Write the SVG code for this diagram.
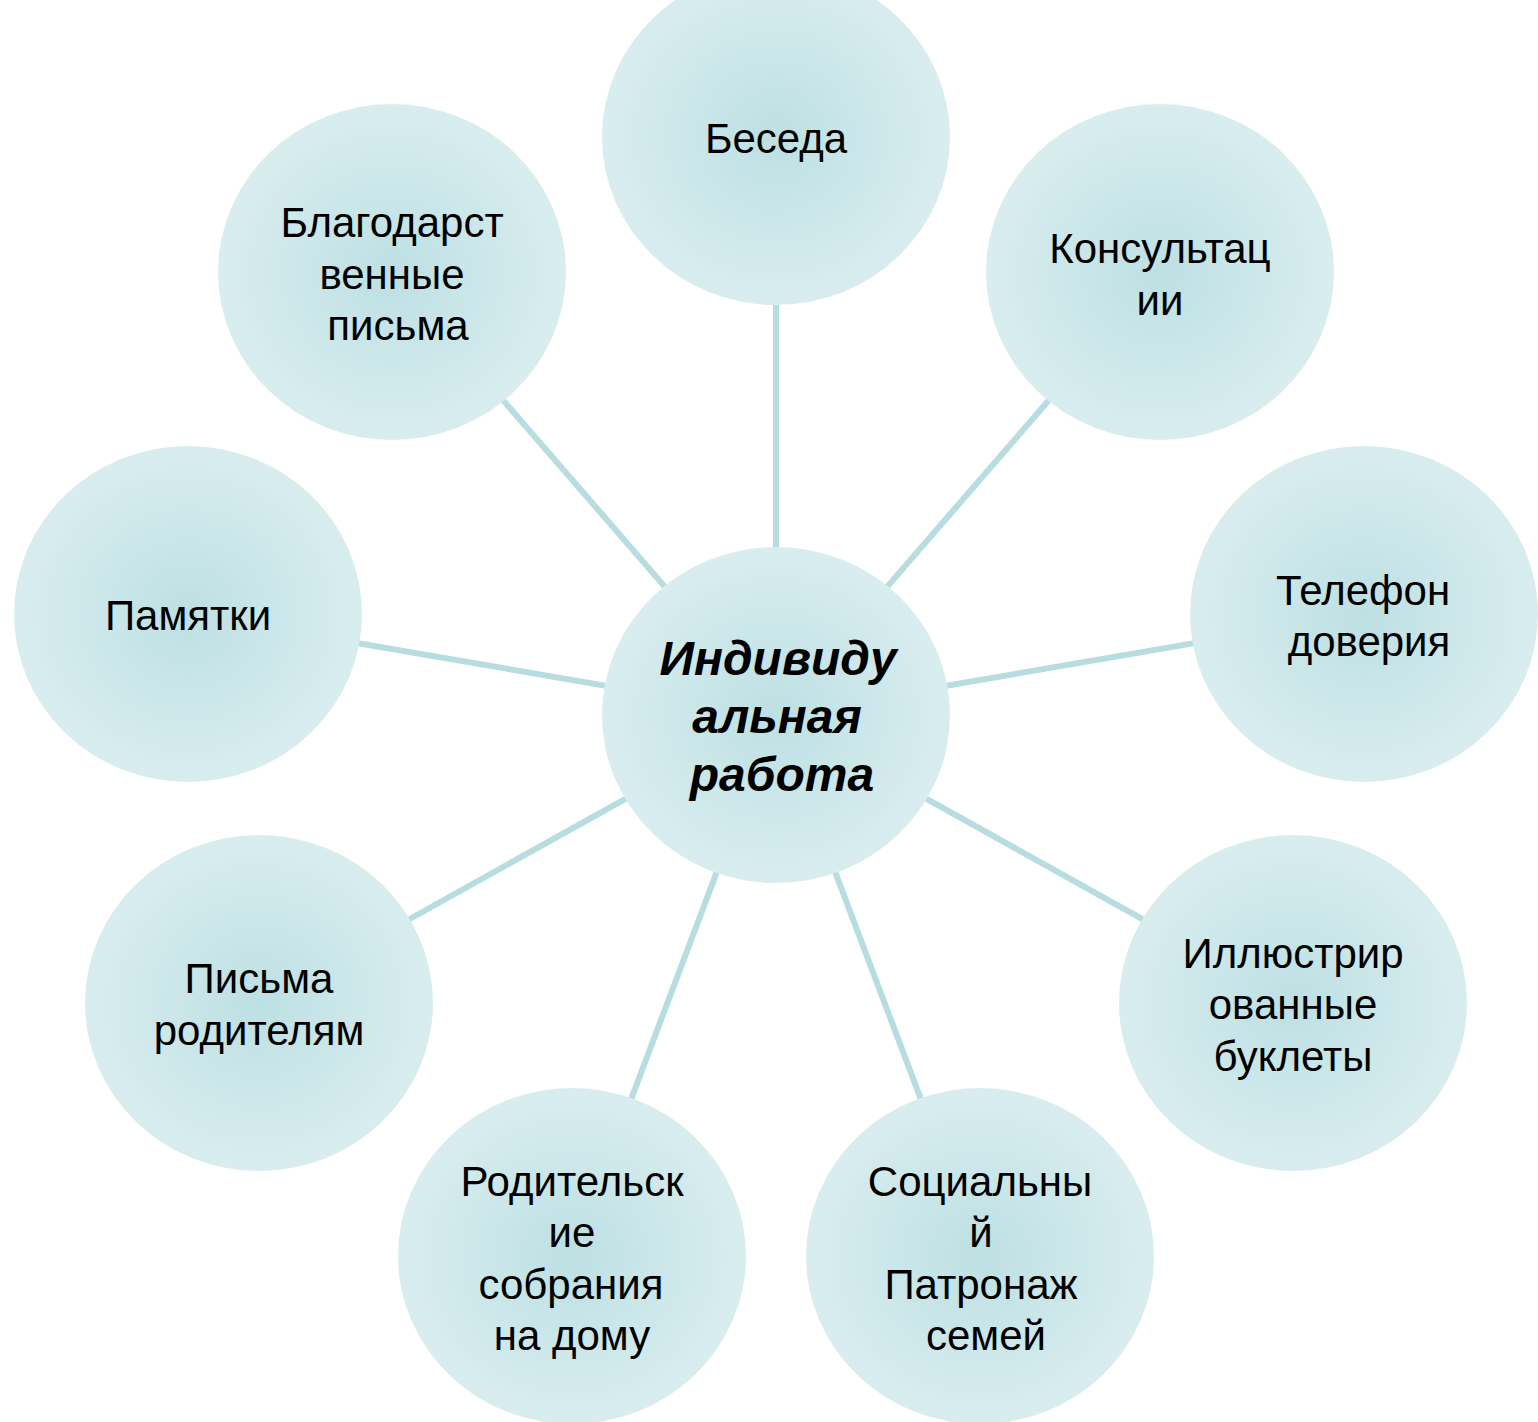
<svg xmlns="http://www.w3.org/2000/svg" width="1538" height="1422" viewBox="0 0 1538 1422">
<defs>
<radialGradient id="g" cx="0.5" cy="0.5" r="0.5">
<stop offset="0" stop-color="#bde0e3"/>
<stop offset="1" stop-color="#d9edef"/>
</radialGradient>
</defs>
<style>
.n{fill:url(#g)}
.t{font-family:"Liberation Sans",Arial,sans-serif;font-size:42px;fill:#000;text-anchor:middle}
.c{font-family:"Liberation Sans",Arial,sans-serif;font-size:48px;font-weight:bold;font-style:italic;fill:#000;text-anchor:middle}
.l{stroke:#b7dde0;stroke-width:6;fill:none}
</style>
<rect width="1538" height="1422" fill="#fff"/>
<g id="connectors">
<line class="l" x1="776" y1="715" x2="776" y2="137"/>
<line class="l" x1="776" y1="715" x2="1160" y2="272"/>
<line class="l" x1="776" y1="715" x2="1364" y2="614"/>
<line class="l" x1="776" y1="715" x2="1293" y2="1003"/>
<line class="l" x1="776" y1="715" x2="980" y2="1256"/>
<line class="l" x1="776" y1="715" x2="572" y2="1256"/>
<line class="l" x1="776" y1="715" x2="259" y2="1003"/>
<line class="l" x1="776" y1="715" x2="188" y2="614"/>
<line class="l" x1="776" y1="715" x2="392" y2="272"/>
</g>
<g id="center">
<ellipse class="n" cx="776" cy="715" rx="174" ry="168"/>
<text class="c"><tspan x="778" y="675">Индивиду</tspan><tspan x="777" y="733">альная</tspan><tspan x="782" y="791">работа</tspan></text>
</g>
<g id="beseda">
<ellipse class="n" cx="776" cy="137" rx="174" ry="168"/>
<text class="t"><tspan x="776" y="153">Беседа</tspan></text>
</g>
<g id="konsultacii">
<ellipse class="n" cx="1160" cy="272" rx="174" ry="168"/>
<text class="t"><tspan x="1160" y="263">Консультац</tspan><tspan x="1160" y="315">ии</tspan></text>
</g>
<g id="telefon">
<ellipse class="n" cx="1364" cy="614" rx="174" ry="168"/>
<text class="t"><tspan x="1363" y="605">Телефон</tspan><tspan x="1369" y="656">доверия</tspan></text>
</g>
<g id="buklety">
<ellipse class="n" cx="1293" cy="1003" rx="174" ry="168"/>
<text class="t"><tspan x="1293" y="968">Иллюстрир</tspan><tspan x="1293" y="1019">ованные</tspan><tspan x="1293" y="1071">буклеты</tspan></text>
</g>
<g id="patronazh">
<ellipse class="n" cx="980" cy="1256" rx="174" ry="168"/>
<text class="t"><tspan x="980" y="1196">Социальны</tspan><tspan x="981" y="1247">й</tspan><tspan x="981" y="1299">Патронаж</tspan><tspan x="986" y="1350">семей</tspan></text>
</g>
<g id="sobrania">
<ellipse class="n" cx="572" cy="1256" rx="174" ry="168"/>
<text class="t"><tspan x="572" y="1196">Родительск</tspan><tspan x="572" y="1247">ие</tspan><tspan x="571" y="1299">собрания</tspan><tspan x="572" y="1350">на дому</tspan></text>
</g>
<g id="pisma">
<ellipse class="n" cx="259" cy="1003" rx="174" ry="168"/>
<text class="t"><tspan x="259" y="993">Письма</tspan><tspan x="259" y="1045">родителям</tspan></text>
</g>
<g id="pamyatki">
<ellipse class="n" cx="188" cy="614" rx="174" ry="168"/>
<text class="t"><tspan x="188" y="630">Памятки</tspan></text>
</g>
<g id="blagodarnost">
<ellipse class="n" cx="392" cy="272" rx="174" ry="168"/>
<text class="t"><tspan x="392" y="237">Благодарст</tspan><tspan x="392" y="289">венные</tspan><tspan x="398" y="340">письма</tspan></text>
</g>
</svg>
